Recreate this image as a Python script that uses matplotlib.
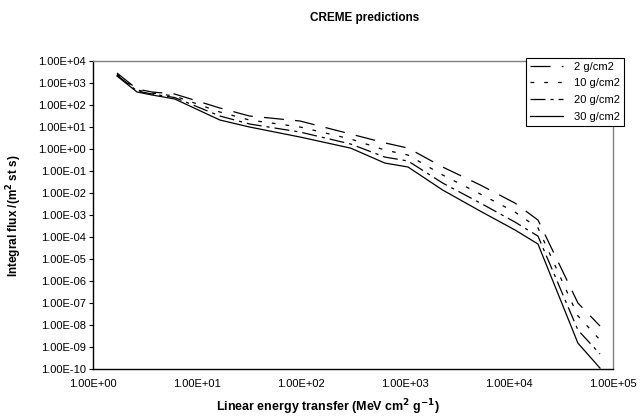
import numpy as np
import matplotlib
matplotlib.use("Agg")
import matplotlib.pyplot as plt
from matplotlib.ticker import FixedLocator, FixedFormatter

plt.rcParams['font.family'] = ['Liberation Sans', 'DejaVu Sans']

# LET values (MeV cm2 / g)
let = [1.7, 2.65, 3.7, 6.1, 16.6, 32, 98, 300, 640, 1070, 2300, 5300, 11400, 19000, 46000, 75000]

# integral flux for each shielding depth
flux_2 = [2850, 533, 390, 316, 73, 31.6, 18.7, 4.8, 1.9, 1.1, 0.152, 0.0231, 3.5e-3, 5.9e-4, 1.0e-7, 9.0e-9]
flux_10 = [2570, 481, 351, 256, 48, 20.8, 10, 2.85, 0.90, 0.53, 0.066, 9.0e-3, 1.37e-3, 2.6e-4, 2.6e-8, 2.1e-9]
flux_20 = [2310, 433, 316, 219, 31.6, 13.7, 5.9, 1.69, 0.43, 0.285, 0.0285, 3.5e-3, 4.8e-4, 1.1e-4, 5.9e-9, 4.8e-10]
flux_30 = [2080, 390, 285, 188, 20.8, 10, 3.5, 1.1, 0.23, 0.152, 0.0137, 1.5e-3, 2.1e-4, 4.8e-5, 1.5e-9, 1.1e-10]

labels = ['2 g/cm2', '10 g/cm2', '20 g/cm2', '30 g/cm2']

yticks = [10.0 ** k for k in range(-10, 5)]
ytick_labels = ['1.00E%+03d' % k for k in range(-10, 5)]
xticks = [10.0 ** k for k in range(0, 6)]
xtick_labels = ['1.00E%+03d' % k for k in range(0, 6)]

fig = plt.figure(figsize=(6.4, 4.19), dpi=100)
ax = fig.add_axes([0.1453, 0.1193, 0.8125, 0.7351])

ax.plot(let, flux_2, color='black', lw=0.9, dashes=(16, 9), label=labels[0])
ax.plot(let, flux_10, color='black', lw=0.9, dashes=(3, 8), label=labels[1])
ax.plot(let, flux_20, color='black', lw=0.9, dashes=(12, 4, 2.5, 4), label=labels[2])
ax.plot(let, flux_30, color='black', lw=0.9, label=labels[3])

ax.set_xscale('log')
ax.set_yscale('log')
ax.set_xlim(1, 1e5)
ax.set_ylim(1e-10, 1e4)

ax.yaxis.set_major_locator(FixedLocator(yticks))
ax.yaxis.set_major_formatter(FixedFormatter(ytick_labels))
ax.yaxis.set_minor_locator(FixedLocator([]))
ax.xaxis.set_major_locator(FixedLocator(xticks))
ax.xaxis.set_major_formatter(FixedFormatter(xtick_labels))
ax.xaxis.set_minor_locator(FixedLocator([]))

ax.tick_params(axis='y', direction='out', length=3, width=0.8, labelsize=8, pad=2)
ax.tick_params(axis='x', length=0, labelsize=8, pad=7)

for side in ['left', 'bottom']:
    ax.spines[side].set_color('black')
    ax.spines[side].set_linewidth(1.0)
for side in ['top', 'right']:
    ax.spines[side].set_color('#808080')
    ax.spines[side].set_linewidth(1.0)

fig.text(0.513, 0.028, 'Linear energy transfer (MeV cm$^{\\mathbf{2}}$ g$^{\\mathbf{-1}}$)',
         ha='center', va='center', fontsize=9, fontweight='bold')
fig.text(0.022, 0.485, 'Integral flux /(m$^{\\mathbf{2}}$ st s)', ha='center', va='center',
         rotation=90, fontsize=8.5, fontweight='bold')
fig.text(0.57, 0.958, 'CREME predictions', ha='center', va='center', fontsize=8.5, fontweight='bold')

leg = ax.legend(loc='upper right', bbox_to_anchor=(0.975, 0.862), bbox_transform=fig.transFigure,
                fontsize=8, frameon=True, fancybox=False, edgecolor='black', framealpha=1,
                handlelength=3.0, handletextpad=1.0, borderpad=0.35, labelspacing=0.6,
                borderaxespad=0)
leg.get_frame().set_linewidth(0.8)

fig.savefig('out.png', dpi=100)
